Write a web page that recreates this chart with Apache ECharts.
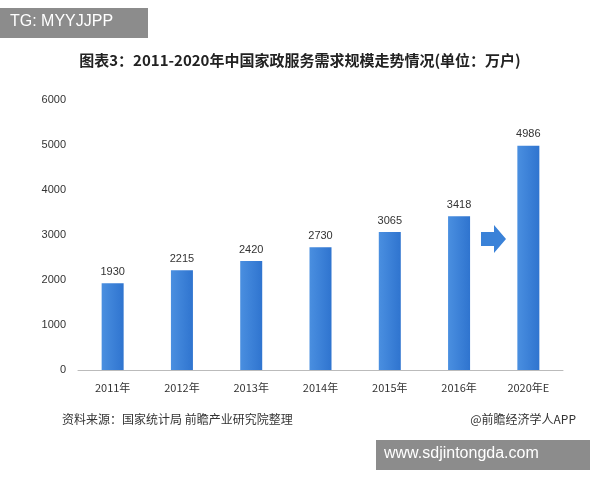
<!DOCTYPE html>
<html><head><meta charset="utf-8">
<script src="https://cdn.jsdelivr.net/npm/echarts@6/dist/echarts.min.js"></script>
<style>html,body{margin:0;padding:0;background:#fff}#main{width:600px;height:480px}</style>
</head><body><div id="main"></div>
<script>
var years = ['2011年','2012年','2013年','2014年','2015年','2016年','2020年E'];
var values = [1930, 2215, 2420, 2730, 3065, 3418, 4986];
var yTicks = [0, 1000, 2000, 3000, 4000, 5000, 6000];

var myChart = echarts.init(document.getElementById('main'));
var option = {
    backgroundColor: '#fff',
    animation: false,
    title: {
        text: '图表3：2011-2020年中国家政服务需求规模走势情况(单位：万户)',
        left: 'center', top: 48,
        textStyle: {fontSize: 15, fontWeight: 'bold', color: '#222', fontFamily: 'Noto Sans CJK SC'}
    },
    grid: {left: 78, right: 37, top: 100, bottom: 110},
    xAxis: {
        type: 'category', data: years,
        axisLine: {lineStyle: {color: '#bbb'}},
        axisTick: {show: false},
        axisLabel: {color: '#333', fontSize: 11, margin: 12, fontFamily: 'Noto Sans CJK SC'}
    },
    yAxis: {
        type: 'value', min: yTicks[0], max: yTicks[yTicks.length - 1], interval: 1000,
        axisLine: {show: false}, axisTick: {show: false},
        splitLine: {show: false},
        axisLabel: {color: '#333', fontSize: 11, margin: 12, formatter: function (v) { return String(v); }}
    },
    series: [{
        type: 'bar', data: values, barWidth: 22,
        itemStyle: {color: new echarts.graphic.LinearGradient(0, 0, 1, 0, [
            {offset: 0, color: '#4a8fe0'}, {offset: 1, color: '#2f74cf'}])},
        label: {show: true, position: 'top', color: '#333', fontSize: 11, distance: 6}
    }],
    graphic: [
        {type: 'rect', shape: {x: 0, y: 8, width: 148, height: 30}, style: {fill: '#8c8c8c'}},
        {type: 'text', left: 10, top: 14, style: {text: 'TG: MYYJJPP', fill: '#fff', fontSize: 16, fontFamily: 'Liberation Sans'}},
        {type: 'polygon', shape: {points: [[481, 232], [494, 232], [494, 225], [506, 239], [494, 253], [494, 246], [481, 246]]},
            style: {fill: '#3a82d8'}},
        {type: 'text', left: 62, top: 413, style: {text: '资料来源：国家统计局 前瞻产业研究院整理', fill: '#333', fontSize: 12, fontFamily: 'Noto Sans CJK SC'}},
        {type: 'text', right: 24, top: 413, style: {text: '@前瞻经济学人APP', fill: '#333', fontSize: 12, fontFamily: 'Noto Sans CJK SC'}},
        {type: 'rect', shape: {x: 376, y: 440, width: 214, height: 30}, style: {fill: '#8c8c8c'}},
        {type: 'text', left: 384, top: 446, style: {text: 'www.sdjintongda.com', fill: '#fff', fontSize: 16, fontFamily: 'Liberation Sans'}}
    ]
};
myChart.setOption(option);
</script></body></html>
